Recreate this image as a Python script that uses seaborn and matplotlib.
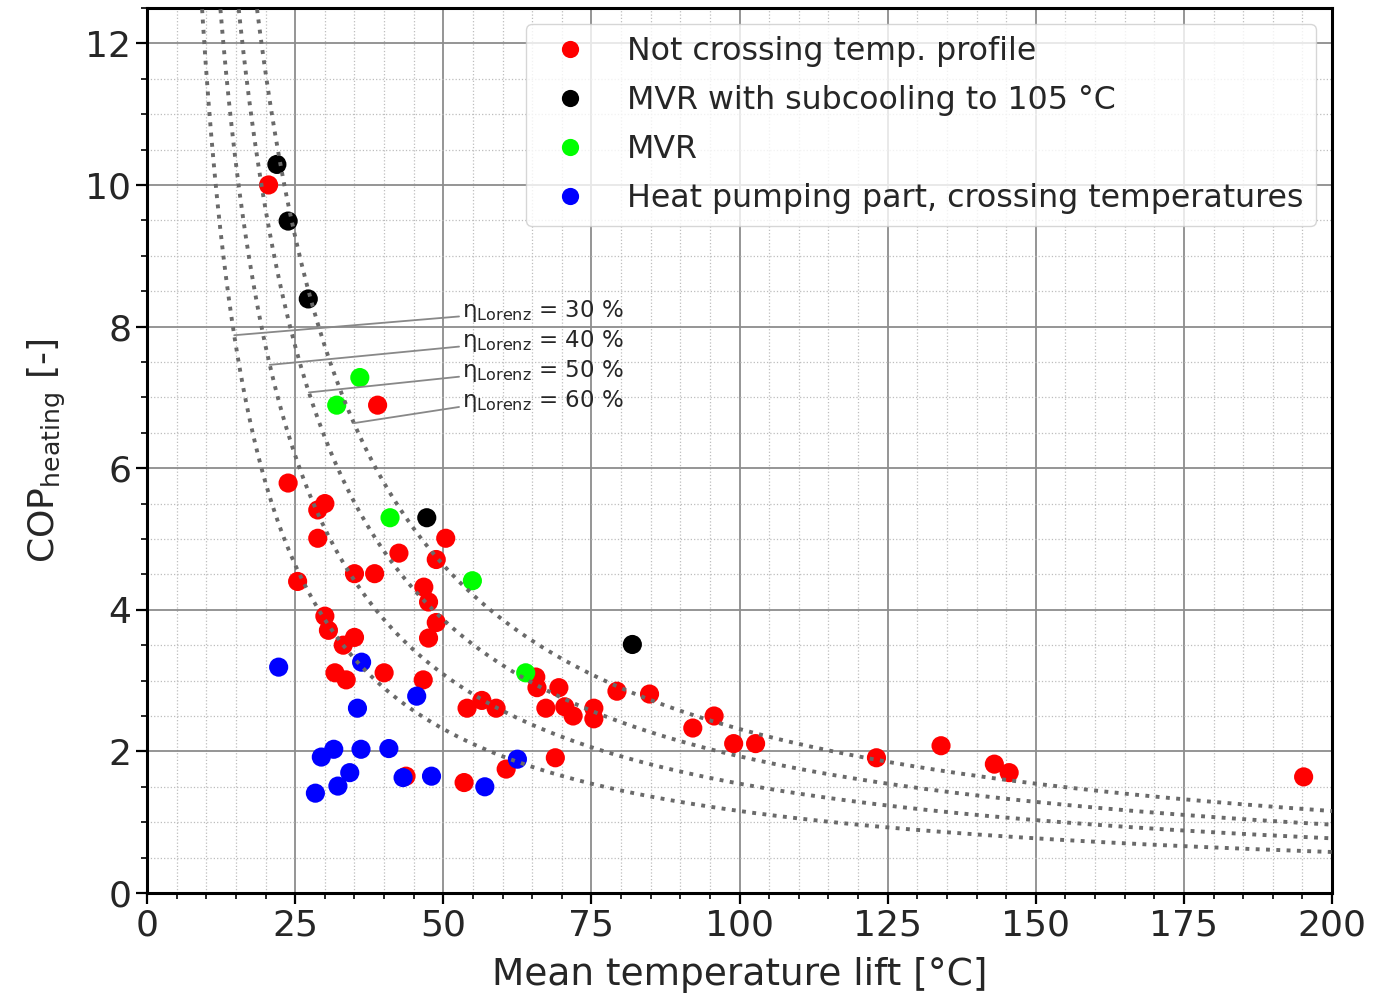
import numpy as np
import pandas as pd
import matplotlib
matplotlib.use("Agg")
import matplotlib.pyplot as plt
from matplotlib.ticker import MultipleLocator
import seaborn as sns

# points (lift in K, COP)
red_x = [20.5, 38.9, 23.8, 28.8, 30.0, 28.8, 25.4, 35.0, 38.4, 42.5, 50.4, 48.8, 46.7, 47.5,
         48.8, 47.5, 30.0, 30.6, 33.1, 35.0, 31.7, 33.6, 40.0, 46.6, 54.0, 56.5, 58.9, 65.6,
         65.8, 69.5, 67.3, 70.5, 71.9, 75.4, 75.4, 79.3, 84.8, 92.1, 95.7, 99.0, 102.7, 123.1,
         134.0, 143.0, 145.5, 195.2, 68.9, 60.6, 53.5, 43.7]
red_y = [10.0, 6.89, 5.79, 5.41, 5.50, 5.01, 4.40, 4.51, 4.51, 4.80, 5.01, 4.71, 4.32, 4.11,
         3.82, 3.60, 3.91, 3.71, 3.50, 3.61, 3.11, 3.01, 3.11, 3.01, 2.61, 2.72, 2.61, 3.05,
         2.90, 2.90, 2.61, 2.63, 2.50, 2.61, 2.46, 2.85, 2.81, 2.33, 2.50, 2.11, 2.11, 1.91,
         2.08, 1.82, 1.70, 1.64, 1.91, 1.75, 1.56, 1.65]
black_x = [21.9, 23.8, 27.2, 47.2, 81.9]
black_y = [10.29, 9.49, 8.39, 5.30, 3.51]
green_x = [35.9, 32.0, 41.0, 54.9, 63.9]
green_y = [7.28, 6.89, 5.30, 4.41, 3.11]
blue_x = [22.2, 36.2, 35.5, 45.5, 29.4, 31.5, 36.1, 40.8, 34.2, 32.2, 28.4, 43.2, 48.0, 57.0, 62.5]
blue_y = [3.19, 3.26, 2.61, 2.78, 1.92, 2.03, 2.03, 2.04, 1.70, 1.51, 1.41, 1.63, 1.65, 1.50, 1.89]

labels = ["Not crossing temp. profile", "MVR with subcooling to 105 °C", "MVR",
          "Heat pumping part, crossing temperatures"]
colors = ["#ff0000", "#000000", "#00ff00", "#0000ff"]

# Lorenz efficiency lines
eta_lorenz = [30, 40, 50, 60]
T_mean = 386.0  # K
label_x = [14.7, 20.7, 27.3, 34.9]  # where the leader lines hit the curves

df = pd.concat([
    pd.DataFrame({"lift": red_x, "cop": red_y, "group": labels[0]}),
    pd.DataFrame({"lift": black_x, "cop": black_y, "group": labels[1]}),
    pd.DataFrame({"lift": green_x, "cop": green_y, "group": labels[2]}),
    pd.DataFrame({"lift": blue_x, "cop": blue_y, "group": labels[3]}),
], ignore_index=True)

sns.set_style("ticks")
plt.rcParams["font.family"] = ["DejaVu Sans"]
plt.rcParams["mathtext.fontset"] = "dejavusans"

fig = plt.figure(figsize=(13.88, 9.93), dpi=100)
ax = fig.add_axes([0.106, 0.1007, 0.8537, 0.8913])

sns.scatterplot(data=df, x="lift", y="cop", hue="group", hue_order=labels,
                palette=colors, s=190, linewidth=0, ax=ax, zorder=3)

lift = np.linspace(5, 200, 400)
for eta in eta_lorenz:
    ax.plot(lift, eta / 100 * T_mean / lift, ls=":", lw=2.8, color="#6a6a6a", zorder=4)

for i, eta in enumerate(eta_lorenz):
    xc = label_x[i]
    ax.annotate(r"$\mathrm{\eta_{Lorenz}}$ = %d %%" % eta,
                xy=(xc, eta / 100 * T_mean / xc), xytext=(53.2, 8.22 - 0.425 * i),
                fontsize=16.5, va="center", ha="left", zorder=5,
                arrowprops=dict(arrowstyle="-", color="#888888", lw=1.3,
                                relpos=(0, 0.3), shrinkA=0, shrinkB=0))

ax.set_xlim(0, 200)
ax.set_ylim(0, 12.5)
ax.xaxis.set_major_locator(MultipleLocator(25))
ax.xaxis.set_minor_locator(MultipleLocator(5))
ax.yaxis.set_major_locator(MultipleLocator(2))
ax.yaxis.set_minor_locator(MultipleLocator(0.5))
ax.grid(which="major", color="#8c8c8c", lw=1.3)
ax.grid(which="minor", color="#bdbdbd", lw=0.9, ls=":")
ax.set_axisbelow(True)
ax.tick_params(which="major", direction="out", length=8, width=1.6, labelsize=26, color="black")
ax.tick_params(which="minor", direction="out", length=4, width=1.2, color="black")
for sp in ax.spines.values():
    sp.set_linewidth(2.2)
    sp.set_color("black")

ax.set_xlabel("Mean temperature lift [°C]", fontsize=27, labelpad=10)
ax.set_ylabel(r"COP$_{\mathrm{heating}}$ [-]", fontsize=26, labelpad=12)

handles, labs = ax.get_legend_handles_labels()
ax.legend(handles, labs, loc="upper right", fontsize=22.8, labelspacing=0.56,
          markerscale=0.9, borderaxespad=0.5, handletextpad=0.8, framealpha=0.8)

fig.savefig("out.png", dpi=100)
